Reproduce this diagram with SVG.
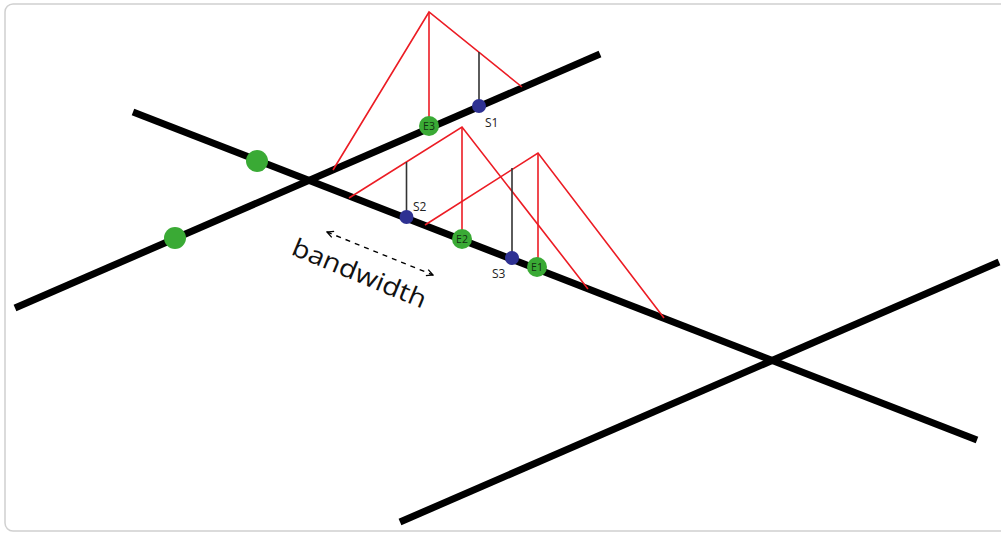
<svg xmlns="http://www.w3.org/2000/svg" width="1001" height="534" viewBox="0 0 1001 534">
<defs>
<style>
.road{stroke:#000;stroke-width:7;fill:none;stroke-linecap:butt}
.red{stroke:#ec1c24;stroke-width:1.6;fill:none}
.stem{stroke:#333;stroke-width:1.6;fill:none}
.green{fill:#3aaa35}
.blue{fill:#2e3192}
.lbl{font-family:"Open Sans","DejaVu Sans",sans-serif;font-size:12px;fill:#222}
.elbl{font-family:"Open Sans","DejaVu Sans",sans-serif;font-size:10.5px;fill:#123012;text-anchor:middle}
</style>
<marker id="ah" viewBox="0 0 10 10" refX="9" refY="5" markerWidth="8" markerHeight="8" orient="auto-start-reverse" markerUnits="userSpaceOnUse">
<path d="M1,1 L9,5 L1,9" fill="none" stroke="#000" stroke-width="1.6"/>
</marker>
</defs>
<rect x="0" y="0" width="1001" height="534" fill="#fff"/>
<rect x="5" y="4" width="1010" height="527" rx="8" fill="none" stroke="#d0d0d0" stroke-width="1.5"/>

<g id="connectors">
<line class="road" x1="133" y1="112" x2="977" y2="440"/>
<line class="road" x1="15" y1="308" x2="600" y2="54"/>
<line class="road" x1="400" y1="522" x2="999" y2="262"/>
<polyline class="red" points="333,170 429,12 522,87"/>
<line class="red" x1="429" y1="12" x2="429" y2="127"/>
<polyline class="red" points="349,198 462,127 588,289"/>
<line class="red" x1="462" y1="127" x2="462" y2="240"/>
<polyline class="red" points="425,225 538,153 664,318"/>
<line class="red" x1="538" y1="153" x2="538" y2="268"/>
<line class="stem" x1="479" y1="52" x2="479" y2="106"/>
<line class="stem" x1="406.5" y1="162" x2="406.5" y2="217"/>
<line class="stem" x1="512" y1="168" x2="512" y2="258"/>
<line x1="327" y1="232" x2="433" y2="275" stroke="#000" stroke-width="1.4" stroke-dasharray="5,5" marker-start="url(#ah)" marker-end="url(#ah)"/>
</g>

<g id="p1"><circle class="green" cx="257" cy="161" r="11"/></g>
<g id="p2"><circle class="green" cx="175" cy="238" r="11"/></g>
<g id="E3"><circle class="green" cx="429" cy="126" r="10"/><text class="elbl" x="429" y="130">E3</text></g>
<g id="E2"><circle class="green" cx="462" cy="239" r="10"/><text class="elbl" x="462" y="243">E2</text></g>
<g id="E1"><circle class="green" cx="537" cy="267" r="10"/><text class="elbl" x="537" y="271">E1</text></g>
<g id="S1"><circle class="blue" cx="479" cy="106" r="7"/><text class="lbl" x="485" y="127">S1</text></g>
<g id="S2"><circle class="blue" cx="406.5" cy="217" r="7"/><text class="lbl" x="413" y="211">S2</text></g>
<g id="S3"><circle class="blue" cx="512" cy="258" r="7"/><text class="lbl" x="492" y="278">S3</text></g>
<g id="bandwidth"><text x="290" y="254" transform="rotate(22.5 290 254)" font-family="'Open Sans','DejaVu Sans',sans-serif" font-size="25" fill="#111" textLength="143" lengthAdjust="spacingAndGlyphs">bandwidth</text></g>
</svg>
